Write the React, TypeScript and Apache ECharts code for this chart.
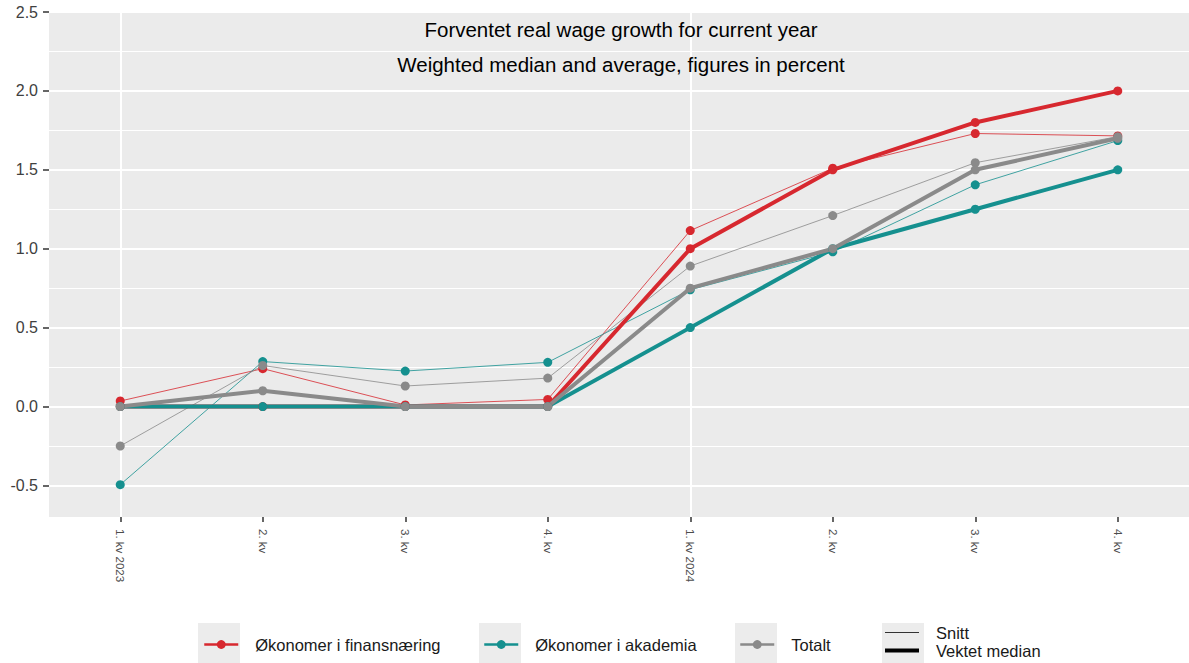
import React, { useEffect, useRef } from "react";
import * as echarts from "echarts";

const categories = ["1. kv 2023", "2. kv", "3. kv", "4. kv", "1. kv 2024", "2. kv", "3. kv", "4. kv"];
const finansMedian = [0, 0, 0, 0, 1.0, 1.5, 1.8, 2.0];
const finansSnitt = [0.035, 0.24, 0.01, 0.045, 1.115, 1.51, 1.73, 1.715];
const akademiaMedian = [0, 0, 0, 0, 0.5, 1.0, 1.25, 1.5];
const akademiaSnitt = [-0.495, 0.285, 0.225, 0.28, 0.74, 0.98, 1.405, 1.685];
const totaltMedian = [0, 0.1, 0, 0, 0.75, 1.0, 1.5, 1.7];
const totaltSnitt = [-0.25, 0.26, 0.13, 0.18, 0.89, 1.21, 1.545, 1.71];
const yTicks = [-0.5, 0, 0.5, 1.0, 1.5, 2.0, 2.5];
const yMinorLines = [-0.25, 0.25, 0.75, 1.25, 1.75, 2.25];
const xMajorLines = [0, 4];

const titleLines = ["Forventet real wage growth for current year", "Weighted median and average, figures in percent"];
const seriesNames = ["Økonomer i finansnæring", "Økonomer i akademia", "Totalt"];
const lineTypeNames = ["Snitt", "Vektet median"];

const RED = "#d7282f";
const TEAL = "#15908f";
const GREY = "#8a8a8a";
const FONT = "'Liberation Sans', Arial, Helvetica, sans-serif";

const toPairs = (arr: number[]) => arr.map((v, i) => [i, v]);

export default function App() {
  const ref = useRef<HTMLDivElement>(null);
  useEffect(() => {
    if (!ref.current) return;
    const chart = echarts.init(ref.current, undefined, { renderer: "svg" });
    const idx = categories.map((_, i) => i);

    const thin = (name: string, data: number[], color: string) => ({
      name,
      type: "line",
      data: toPairs(data),
      symbol: "circle",
      symbolSize: 9,
      showSymbol: true,
      lineStyle: { width: 1, color, opacity: 0.8 },
      itemStyle: { color },
      emphasis: { disabled: true },
      silent: true,
      z: 3,
    });
    const thick = (name: string, data: number[], color: string) => ({
      name,
      type: "line",
      data: toPairs(data),
      symbol: "circle",
      symbolSize: 9,
      showSymbol: true,
      lineStyle: { width: 4, color },
      itemStyle: { color },
      emphasis: { disabled: true },
      silent: true,
      z: 4,
    });

    const legendBase = {
      orient: "horizontal",
      padding: 0,
      itemWidth: 34,
      itemHeight: 11,
      selectedMode: false,
      textStyle: { fontSize: 16.5, color: "#1a1a1a", fontFamily: FONT, padding: [0, 0, 0, 12] },
      z: 5,
    };

    const gridMarks = [
      ...yTicks.map((v) => ({ yAxis: v, lineStyle: { width: 2, color: "#ffffff", type: "solid" } })),
      ...yMinorLines.map((v) => ({ yAxis: v, lineStyle: { width: 1.2, color: "#ffffff", type: "solid" } })),
      ...xMajorLines.map((v) => ({ xAxis: v, lineStyle: { width: 2, color: "#ffffff", type: "solid" } })),
    ];

    const option: any = {
      animation: false,
      grid: {
        left: 49,
        top: 12,
        width: 1144,
        height: 505,
        show: true,
        backgroundColor: "#ebebeb",
        borderWidth: 0,
      },
      xAxis: {
        type: "value",
        min: -0.5,
        max: 7.5,
        position: "bottom",
        axisLine: { show: false, onZero: false },
        splitLine: { show: false },
        axisTick: { show: true, customValues: idx, length: 5, lineStyle: { color: "#333333", width: 1.5 } },
        axisLabel: {
          customValues: idx,
          formatter: (v: number) => categories[Math.round(v)],
          rotate: -90,
          margin: 12,
          fontSize: 11.5,
          color: "#4d4d4d",
          fontFamily: FONT,
        },
      },
      yAxis: {
        type: "value",
        min: -0.7,
        max: 2.5,
        position: "left",
        axisLine: { show: false, onZero: false },
        splitLine: { show: false },
        axisTick: { show: true, customValues: yTicks, length: 6, lineStyle: { color: "#333333", width: 1.5 } },
        axisLabel: {
          customValues: yTicks,
          formatter: (v: number) => v.toFixed(1),
          margin: 11,
          fontSize: 16,
          color: "#404040",
          fontFamily: FONT,
        },
      },
      legend: [
        { ...legendBase, left: 203, top: 636, data: [seriesNames[0]], lineStyle: { width: 2.5 } },
        { ...legendBase, left: 483, top: 636, data: [seriesNames[1]], lineStyle: { width: 2.5 } },
        { ...legendBase, left: 739, top: 636, data: [seriesNames[2]], lineStyle: { width: 2.5 } },
        { ...legendBase, left: 885, top: 624, itemHeight: 1, data: [{ name: lineTypeNames[0], icon: "rect" }] },
        { ...legendBase, left: 885, top: 642, itemHeight: 4, data: [{ name: lineTypeNames[1], icon: "rect" }] },
      ],
      graphic: [
        { type: "rect", z: 0, shape: { x: 198, y: 623, width: 42, height: 41 }, style: { fill: "#ececec" } },
        { type: "rect", z: 0, shape: { x: 479, y: 623, width: 42, height: 41 }, style: { fill: "#ececec" } },
        { type: "rect", z: 0, shape: { x: 735, y: 623, width: 42, height: 41 }, style: { fill: "#ececec" } },
        { type: "rect", z: 0, shape: { x: 882, y: 623, width: 42, height: 41 }, style: { fill: "#ececec" } },
        {
          type: "text",
          z: 10,
          x: 621,
          y: 29,
          style: { text: titleLines[0], fill: "#000000", fontSize: 20.5, fontFamily: FONT, align: "center", verticalAlign: "middle" },
        },
        {
          type: "text",
          z: 10,
          x: 621,
          y: 64,
          style: { text: titleLines[1], fill: "#000000", fontSize: 20.5, fontFamily: FONT, align: "center", verticalAlign: "middle" },
        },
      ],
      series: [
        {
          name: "gridlines",
          type: "line",
          data: [],
          z: 1,
          silent: true,
          markLine: {
            silent: true,
            z: 1,
            symbol: ["none", "none"],
            label: { show: false },
            emphasis: { disabled: true },
            data: gridMarks,
          },
        },
        thin(seriesNames[0] + " snitt", finansSnitt, RED),
        thin(seriesNames[1] + " snitt", akademiaSnitt, TEAL),
        thin(seriesNames[2] + " snitt", totaltSnitt, GREY),
        thick(seriesNames[0], finansMedian, RED),
        thick(seriesNames[1], akademiaMedian, TEAL),
        thick(seriesNames[2], totaltMedian, GREY),
        { name: lineTypeNames[0], type: "line", data: [], itemStyle: { color: "#333333" }, lineStyle: { width: 1 } },
        { name: lineTypeNames[1], type: "line", data: [], itemStyle: { color: "#000000" }, lineStyle: { width: 4 } },
      ],
    };
    chart.setOption(option);
    return () => chart.dispose();
  }, []);
  return <div ref={ref} style={{ position: "fixed", left: 0, top: 0, width: 1189, height: 663, background: "#ffffff" }} />;
}
